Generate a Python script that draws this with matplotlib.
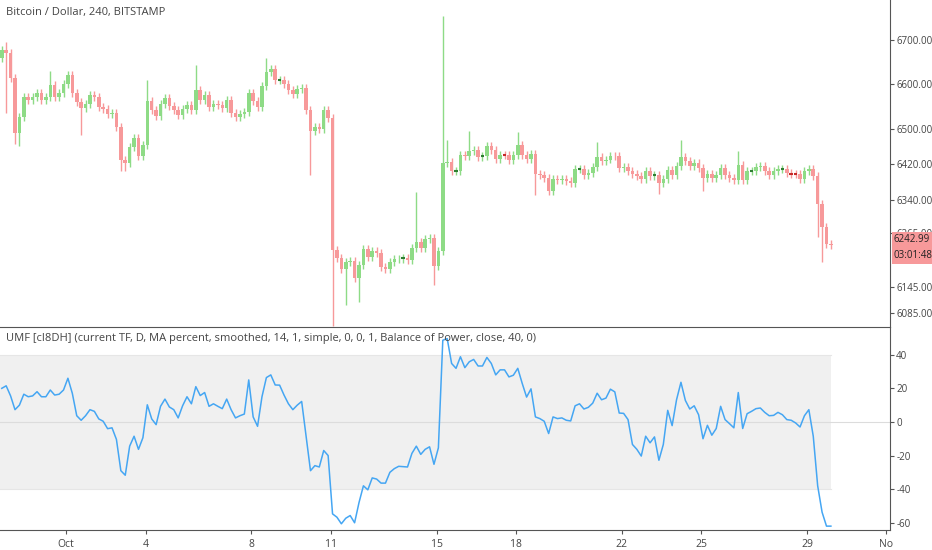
import matplotlib
matplotlib.use("Agg")
import matplotlib.pyplot as plt
from matplotlib.patches import Rectangle

plt.rcParams["axes.unicode_minus"] = False

# candle closes (4h), open = previous close
closes = [6677, 6670, 6614, 6490, 6527, 6572, 6565, 6571, 6581, 6566, 6571, 6598, 6572, 6580, 6601, 6621,
          6580, 6561, 6546, 6557, 6576, 6571, 6550, 6544, 6533, 6535, 6505, 6430, 6422, 6460, 6479, 6439,
          6464, 6563, 6542, 6529, 6557, 6570, 6551, 6542, 6531, 6544, 6554, 6542, 6587, 6565, 6576, 6550,
          6556, 6553, 6546, 6565, 6536, 6526, 6533, 6539, 6581, 6563, 6550, 6596, 6627, 6634, 6609, 6610,
          6601, 6587, 6578, 6589, 6591, 6542, 6496, 6505, 6500, 6542, 6524, 6227, 6209, 6184, 6201, 6203,
          6164, 6194, 6229, 6212, 6226, 6221, 6190, 6184, 6201, 6206, 6208, 6209, 6205, 6231, 6246, 6231,
          6251, 6254, 6192, 6225, 6424, 6426, 6405, 6405,
          6442, 6440, 6450, 6452, 6437, 6438, 6461, 6452, 6432, 6442, 6441, 6430, 6442, 6463, 6442, 6432,
          6444, 6398, 6396, 6389, 6360, 6388, 6384, 6386, 6383, 6378, 6409, 6410, 6396, 6400, 6414, 6437,
          6427, 6431, 6440, 6438, 6412, 6414, 6406, 6398, 6394, 6387, 6405, 6394, 6395, 6377, 6386, 6407,
          6395, 6417, 6437, 6427, 6417, 6424, 6412, 6390, 6398, 6389, 6397, 6412, 6395, 6389, 6384, 6418,
          6384, 6404, 6405, 6415, 6417, 6404, 6397, 6404, 6409, 6409, 6400, 6399, 6398, 6387, 6406, 6410,
          6394, 6330, 6278, 6240, 6238]
first_open = 6660
notable_highs = {1: 6696, 11: 6631, 33: 6610, 44: 6644, 60: 6659, 94: 6357, 100: 6754, 101: 6476,
                 106: 6496, 117: 6492, 135: 6471, 154: 6475, 167: 6450}
notable_lows = {1: 6535, 3: 6467, 4: 6461, 18: 6486, 27: 6406, 28: 6406, 70: 6396, 75: 6056, 78: 6104,
                81: 6111, 98: 6149, 121: 6350, 149: 6353, 159: 6361, 185: 6257, 186: 6201}
wick = 9

umf = [20, 21.5, 15.5, 7.3, 10, 16.5, 15, 15.5, 18, 15, 15, 19, 16, 16.5, 19, 26, 17, 3.7, 1, 3.7, 7.3,
       6.3, 1.8, 0.4, -4, -3.5, -10.4, -29, -31.7, -14.4, -8.5, -16.3, -9.4, 10.2, 1.8, -1.6, 9.3, 13.6,
       8.9, 7.3, 2.4, 9.6, 15, 10.8, 21, 15.7, 17.5, 9.3, 10.8, 9.3, 7.9, 13.6, 7.3, 2.4, 3.7, 4.7, 25, 3,
       -2.6, 15, 26.4, 28, 22, 21.9, 16, 10.8, 7.3, 10, 12.2, -8.5, -29, -26, -26.8, -17, -20, -54.7,
       -56.7, -60.6, -57.3, -55.7, -60, -48, -38, -40.4, -33.3, -34, -36.4, -36.4, -30, -27.8, -26.4,
       -26.6, -26.8, -18.7, -14.4, -19.3, -16.3, -14.8, -25.2, -15.4, 48.6, 49.6, 34.8, 31.9, 38.8,
       32.3, 35.8, 37.2, 33.3, 33.3, 38.4, 34.8, 28, 31, 31, 26.8, 27.8, 31.9, 23, 14.8, 19.7, 3, 2, 0.4,
       -6.9, 3, 2, 2.4, 1, 0.6, 9.6, 10.8, 7.7, 8.7, 11.2, 17.1, 13.2, 14.2, 19.5, 17.9, 5.3, 5.1, 1.4,
       -13.4, -16.3, -20.3, -8.5, -12.4, -8.9, -22.8, -13.4, 6.9, -2.2, 13.2, 23.6, 12.8, 7.7, 9.6, 4.3,
       -10, -2, -7.9, -3.9, 9.3, 1.4, -1, -3.5, 17.5, -3.9, 4.9, 6.3, 7.9, 8.3, 5.7, 3.7, 3.9, 5.7, 4.3,
       1.4, 1, -0.6, -3, 3.7, 7.3, -8.5, -38, -53.7, -62, -62]

day_labels = ["Oct", "4", "8", "11", "15", "18", "22", "25", "29", "No"]
day_offsets = [0, 3, 7, 10, 14, 17, 21, 24, 28, 31]
oct1_index = 14.6
price_ticks = [6700, 6600, 6500, 6420, 6340, 6265, 6145, 6085]
umf_ticks = [40, 20, 0, -20, -40, -60]
last_price = "6242.99"
countdown = "03:01:48"

W, H = 932, 550
fig = plt.figure(figsize=(W / 100, H / 100), dpi=100)
axr = 890 / W
ax1 = fig.add_axes([0, 1 - 327 / H, axr, 327 / H])
ax2 = fig.add_axes([0, 1 - 530 / H, axr, 203 / H], sharex=ax1)

GREEN, RED = "#8edb86", "#f7999a"
DGREEN, DRED = "#2e7d32", "#c62828"
opens = [first_open] + closes[:-1]
for i, (o, c) in enumerate(zip(opens, closes)):
    up = c >= o
    col = GREEN if up else RED
    hi = notable_highs.get(i, max(o, c) + wick)
    lo = notable_lows.get(i, min(o, c) - wick)
    ax1.vlines(i, lo, hi, color=col, lw=1)
    if abs(c - o) < 2:
        ax1.hlines(c, i - 0.4, i + 0.4, color=DGREEN if up else DRED, lw=1.5)
    else:
        ax1.add_patch(Rectangle((i - 0.4, min(o, c)), 0.8, abs(c - o), color=col, lw=0))

n = len(closes)
xl = (-0.4, 201.4)
ax1.set_xlim(*xl)
ax1.set_ylim(6054, 6790)
ax2.set_ylim(-64.3, 56.5)

frac = (n - 1 - xl[0]) / (xl[1] - xl[0])
ax2.axhspan(-40, 40, xmin=0, xmax=frac, color="#f0f0f0", lw=0)
ax2.axhline(40, color="#e6e6e6", lw=0.8, xmax=frac)
ax2.axhline(-40, color="#e6e6e6", lw=0.8, xmax=frac)
ax2.axhline(0, color="#dcdcdc", lw=0.8)
ax2.plot(range(len(umf)), umf, color="#45a6f3", lw=1.1)

for ax in (ax1, ax2):
    for s in ("top", "left"):
        ax.spines[s].set_visible(False)
    ax.spines["right"].set_color("#555555")
    ax.spines["bottom"].set_color("#555555")
    ax.yaxis.tick_right()
    ax.tick_params(axis="y", colors="#555555", labelsize=7, length=3, pad=1.5, labelcolor="#444444")
    ax.set_facecolor("none")

ax1.set_yticks(price_ticks)
ax1.set_yticklabels([f"{p:.2f}" for p in price_ticks], fontfamily="Open Sans")
ax1.tick_params(axis="x", bottom=False, labelbottom=False)
ax2.set_yticks(umf_ticks)
ax2.set_yticklabels([str(v) for v in umf_ticks], fontfamily="Open Sans")
ax2.set_xticks([oct1_index + 6 * d for d in day_offsets])
ax2.set_xticklabels(day_labels, fontfamily="Open Sans")
ax2.tick_params(axis="x", colors="#555555", labelsize=7.5, length=3, labelcolor="#444444")

ax1.text(6 / 890, 1 - 12 / 327, "Bitcoin / Dollar, 240, BITSTAMP", transform=ax1.transAxes,
         fontsize=8, color="#444444", va="center", fontfamily="Open Sans")
ax2.text(6 / 890, 1 - 12 / 203, "UMF [cI8DH] (current TF, D, MA percent, smoothed, 14, 1, simple, 0, 0, 1, Balance of Power, close, 40, 0)",
         transform=ax2.transAxes, fontsize=8, color="#444444", va="center", fontfamily="Open Sans")

fig.text(894 / W, 1 - 240 / H, last_price, fontsize=7, color="#222222", va="center", ha="left",
         fontfamily="Open Sans", bbox=dict(boxstyle="square,pad=0.25", fc="#f7999a", ec="none"))
fig.text(894 / W, 1 - 256 / H, countdown, fontsize=7, color="#222222", va="center", ha="left",
         fontfamily="Open Sans", bbox=dict(boxstyle="square,pad=0.25", fc="#f7999a", ec="none"))

fig.savefig("out.png", dpi=100)
